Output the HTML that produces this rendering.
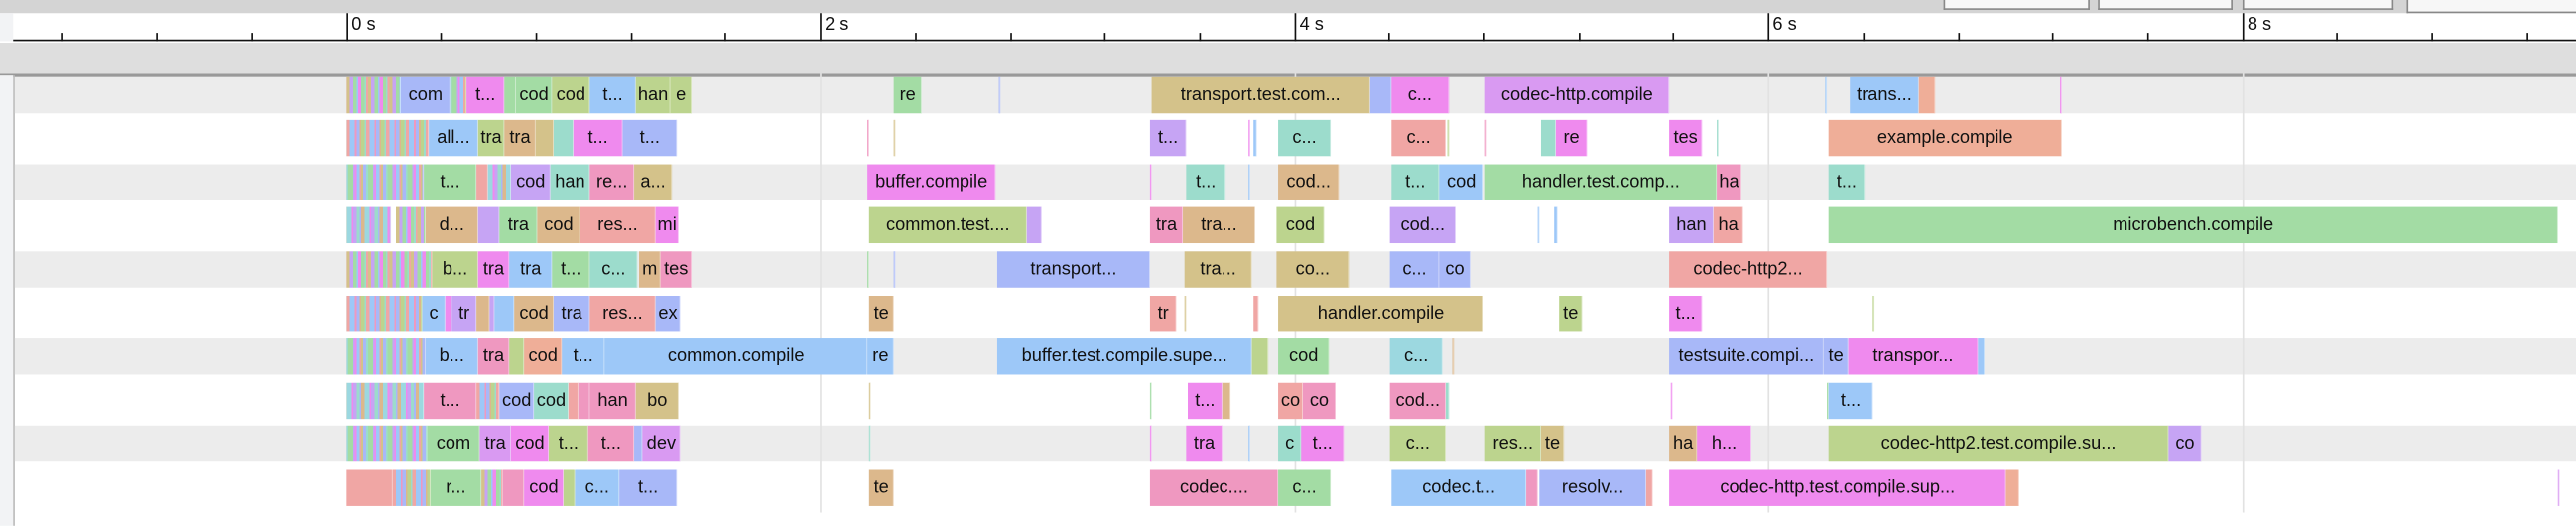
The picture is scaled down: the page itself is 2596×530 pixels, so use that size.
<!DOCTYPE html>
<html><head><meta charset="utf-8"><style>
html,body{margin:0;padding:0;background:#fff;overflow:hidden;width:2596px;height:530px}
#w{position:absolute;left:0;top:0;width:1568px;height:320px;transform:scale(1.6556);transform-origin:0 0;font-family:"Liberation Sans",sans-serif;font-size:11px;color:#111}
.a{position:absolute}
.b{position:absolute;top:0;height:22px;line-height:22px;text-align:center;overflow:hidden;white-space:nowrap;box-shadow:inset -0.5px 0 0 rgba(255,255,255,.5)}
.row{position:absolute;left:0;width:1568px;height:22px}
.B{background:#9dc8f8}.L{background:#a8b8f8}.M{background:#ef8aee}.G{background:#a3dca4}.OG{background:#bcd48e}.OT{background:#d4c28a}.T{background:#dcb88c}.S{background:#f0a6a4}.R{background:#ef98c0}.P{background:#c6a4f4}.TE{background:#9cdccc}.C{background:#9cd8e0}.O{background:#d99af2}.SA{background:#efae98}
.n1{background:repeating-linear-gradient(90deg,#d4c28a 0 2px,#c6a4f4 2px 4px,#a3dca4 4px 6px,#9dc8f8 6px 7px,#ef8aee 7px 9px,#a3dca4 9px 11px,#9cdccc 11px 12px,#f0a6a4 12px 13px)}
.n2{background:repeating-linear-gradient(90deg,#f0a6a4 0 2px,#9dc8f8 2px 5px,#ef98c0 5px 6px,#a8b8f8 6px 8px,#dcb88c 8px 9px,#bcd48e 9px 11px,#9cdccc 11px 12px)}
.n3{background:repeating-linear-gradient(90deg,#9cdccc 0 1px,#a3dca4 1px 4px,#c6a4f4 4px 5px,#ef8aee 5px 6px,#9dc8f8 6px 8px,#f0a6a4 8px 9px,#d4c28a 9px 10px,#a8b8f8 10px 12px)}
.n4{background:repeating-linear-gradient(90deg,#9cd8e0 0 3px,#ef8aee 3px 4px,#c6a4f4 4px 6px,#9cdccc 6px 8px,#a8b8f8 8px 9px,#dcb88c 9px 11px)}
.t{position:absolute;top:8px;width:1px;height:17px;background:#111}
.m{position:absolute;top:20px;width:1px;height:5px;background:#111}
.tl{position:absolute;top:9px;font-size:11px}
.g{position:absolute;top:45px;width:1px;height:267px;background:#e2e2e2}
.btn{position:absolute;top:-1px;height:6px;background:#f7f7f7;border:1px solid #888;border-top:none}
</style></head><body><div id="w">
<div class="a" style="left:0;top:0;width:1568px;height:8px;background:#d4d4d4"></div>
<div class="btn" style="left:1183px;width:87px"></div>
<div class="btn" style="left:1277px;width:80px"></div>
<div class="btn" style="left:1365px;width:90px"></div>
<div class="btn" style="left:1465px;width:105px;height:8px"></div>
<div class="a" style="left:0;top:8px;width:8px;height:17px;background:#f2f3f5"></div>
<div class="a" style="left:8px;top:24px;width:1560px;height:1px;background:#111"></div>
<div class="a" style="left:0;top:26px;width:1568px;height:19px;background:#dedede"></div>
<div class="a" style="left:0;top:45px;width:1568px;height:1.5px;background:#999"></div>
<div class="a" style="left:0;top:46px;width:8px;height:274px;background:#f2f3f5"></div>
<div class="a" style="left:8px;top:46px;width:1px;height:274px;background:#bbb"></div>
<div class="t" style="left:211px"></div><div class="tl" style="left:214px">0 s</div>
<div class="t" style="left:499px"></div><div class="tl" style="left:502px">2 s</div>
<div class="t" style="left:788px"></div><div class="tl" style="left:791px">4 s</div>
<div class="t" style="left:1076px"></div><div class="tl" style="left:1079px">6 s</div>
<div class="t" style="left:1365px"></div><div class="tl" style="left:1368px">8 s</div>
<div class="m" style="left:37px"></div><div class="m" style="left:95px"></div><div class="m" style="left:153px"></div>
<div class="m" style="left:268px"></div><div class="m" style="left:326px"></div><div class="m" style="left:384px"></div><div class="m" style="left:441px"></div>
<div class="m" style="left:557px"></div><div class="m" style="left:615px"></div><div class="m" style="left:672px"></div><div class="m" style="left:730px"></div>
<div class="m" style="left:845px"></div><div class="m" style="left:903px"></div><div class="m" style="left:961px"></div><div class="m" style="left:1018px"></div>
<div class="m" style="left:1134px"></div><div class="m" style="left:1192px"></div><div class="m" style="left:1249px"></div><div class="m" style="left:1307px"></div>
<div class="m" style="left:1422px"></div><div class="m" style="left:1480px"></div><div class="m" style="left:1538px"></div>

<div class="a" style="left:9px;top:46.5px;width:1559px;height:22px;background:#ececec"></div>
<div class="a" style="left:9px;top:99.7px;width:1559px;height:22px;background:#ececec"></div>
<div class="a" style="left:9px;top:152.9px;width:1559px;height:22px;background:#ececec"></div>
<div class="a" style="left:9px;top:206.1px;width:1559px;height:22px;background:#ececec"></div>
<div class="a" style="left:9px;top:259.3px;width:1559px;height:22px;background:#ececec"></div>
<div class="g" style="left:499px"></div><div class="g" style="left:788px"></div><div class="g" style="left:1076px"></div><div class="g" style="left:1365px"></div>

<!-- row0 -->
<div class="row" style="top:46.5px">
<div class="b n1" style="left:211px;width:33px"></div>
<div class="b L" style="left:244px;width:30px">com</div>
<div class="b n3" style="left:274px;width:10px"></div>
<div class="b M" style="left:284px;width:23px">t...</div>
<div class="b G" style="left:307px;width:7px"></div>
<div class="b G" style="left:314px;width:22px">cod</div>
<div class="b OG" style="left:336px;width:23px">cod</div>
<div class="b B" style="left:359px;width:28px">t...</div>
<div class="b OG" style="left:387px;width:21px">han</div>
<div class="b OG" style="left:408px;width:13px">e</div>
<div class="b G" style="left:544px;width:17px">re</div>
<div class="b L" style="left:608px;width:1px"></div>
<div class="b OT" style="left:700.5px;width:133.5px">transport.test.com...</div>
<div class="b L" style="left:834px;width:12.5px"></div>
<div class="b M" style="left:846.5px;width:35.5px">c...</div>
<div class="b O" style="left:904px;width:112px">codec-http.compile</div>
<div class="b B" style="left:1111px;width:1px"></div>
<div class="b B" style="left:1126px;width:42px">trans...</div>
<div class="b SA" style="left:1168px;width:10px"></div>
<div class="b M" style="left:1254px;width:1px"></div>
</div>
<!-- row1 -->
<div class="row" style="top:73.1px">
<div class="b n2" style="left:211px;width:50px"></div>
<div class="b B" style="left:261px;width:30px">all...</div>
<div class="b OG" style="left:291px;width:16px">tra</div>
<div class="b T" style="left:307px;width:19px">tra</div>
<div class="b OT" style="left:326px;width:11px"></div>
<div class="b TE" style="left:337px;width:12px"></div>
<div class="b M" style="left:349px;width:30px">t...</div>
<div class="b L" style="left:379px;width:33px">t...</div>
<div class="b R" style="left:528px;width:1px"></div>
<div class="b OT" style="left:544px;width:1px"></div>
<div class="b P" style="left:700px;width:22px">t...</div>
<div class="b M" style="left:760px;width:1px"></div>
<div class="b B" style="left:763px;width:2px"></div>
<div class="b TE" style="left:778px;width:32px">c...</div>
<div class="b S" style="left:847px;width:33px">c...</div>
<div class="b OG" style="left:881px;width:1px"></div>
<div class="b R" style="left:904px;width:1px"></div>
<div class="b TE" style="left:938px;width:9px"></div>
<div class="b M" style="left:947px;width:19px">re</div>
<div class="b M" style="left:1016px;width:20px">tes</div>
<div class="b TE" style="left:1045px;width:1px"></div>
<div class="b SA" style="left:1113px;width:142px">example.compile</div>
</div>
<!-- row2 -->
<div class="row" style="top:99.7px">
<div class="b n3" style="left:211px;width:47px"></div>
<div class="b G" style="left:258px;width:32px">t...</div>
<div class="b S" style="left:290px;width:7px"></div>
<div class="b n4" style="left:297px;width:14px"></div>
<div class="b P" style="left:311px;width:24px">cod</div>
<div class="b TE" style="left:335px;width:24px">han</div>
<div class="b R" style="left:359px;width:27px">re...</div>
<div class="b OT" style="left:386px;width:23px">a...</div>
<div class="b M" style="left:528px;width:78px">buffer.compile</div>
<div class="b M" style="left:700px;width:1px"></div>
<div class="b TE" style="left:722px;width:24px">t...</div>
<div class="b B" style="left:760px;width:1px"></div>
<div class="b T" style="left:778px;width:37px">cod...</div>
<div class="b TE" style="left:847px;width:29px">t...</div>
<div class="b B" style="left:876px;width:27px">cod</div>
<div class="b G" style="left:904px;width:141px">handler.test.comp...</div>
<div class="b R" style="left:1045px;width:15px">ha</div>
<div class="b TE" style="left:1113px;width:22px">t...</div>
</div>
<!-- row3 -->
<div class="row" style="top:126.3px">
<div class="b n4" style="left:211px;width:27px"></div>
<div class="b n1" style="left:241px;width:18px"></div>
<div class="b T" style="left:259px;width:32px">d...</div>
<div class="b P" style="left:291px;width:13px"></div>
<div class="b G" style="left:304px;width:23px">tra</div>
<div class="b T" style="left:327px;width:26px">cod</div>
<div class="b S" style="left:353px;width:46px">res...</div>
<div class="b M" style="left:399px;width:14px">mi</div>
<div class="b OG" style="left:529px;width:96px">common.test....</div>
<div class="b P" style="left:625px;width:9px"></div>
<div class="b R" style="left:700px;width:20px">tra</div>
<div class="b T" style="left:720px;width:44px">tra...</div>
<div class="b OG" style="left:777px;width:29px">cod</div>
<div class="b P" style="left:846px;width:40px">cod...</div>
<div class="b B" style="left:936px;width:1px"></div>
<div class="b B" style="left:946px;width:2px"></div>
<div class="b P" style="left:1016px;width:27px">han</div>
<div class="b S" style="left:1043px;width:18px">ha</div>
<div class="b G" style="left:1113px;width:444px">microbench.compile</div>
</div>
<!-- row4 -->
<div class="row" style="top:152.9px">
<div class="b n1" style="left:211px;width:52px"></div>
<div class="b OG" style="left:263px;width:28px">b...</div>
<div class="b M" style="left:291px;width:19px">tra</div>
<div class="b B" style="left:310px;width:26px">tra</div>
<div class="b G" style="left:336px;width:23px">t...</div>
<div class="b TE" style="left:359px;width:29px">c...</div>
<div class="b T" style="left:389px;width:13px">m</div>
<div class="b R" style="left:402px;width:19px">tes</div>
<div class="b G" style="left:528px;width:1px"></div>
<div class="b L" style="left:544px;width:1px"></div>
<div class="b L" style="left:607px;width:93px">transport...</div>
<div class="b OT" style="left:721px;width:41px">tra...</div>
<div class="b OT" style="left:777px;width:44px">co...</div>
<div class="b L" style="left:846px;width:30px">c...</div>
<div class="b L" style="left:876px;width:19px">co</div>
<div class="b S" style="left:1016px;width:96px">codec-http2...</div>
</div>
<!-- row5 -->
<div class="row" style="top:179.5px">
<div class="b n2" style="left:211px;width:46px"></div>
<div class="b B" style="left:257px;width:14px">c</div>
<div class="b M" style="left:271px;width:4px"></div>
<div class="b P" style="left:275px;width:15px">tr</div>
<div class="b T" style="left:290px;width:8px"></div>
<div class="b P" style="left:298px;width:3px"></div>
<div class="b B" style="left:301px;width:12px"></div>
<div class="b T" style="left:313px;width:24px">cod</div>
<div class="b L" style="left:337px;width:22px">tra</div>
<div class="b S" style="left:359px;width:40px">res...</div>
<div class="b L" style="left:399px;width:15px">ex</div>
<div class="b T" style="left:529px;width:15px">te</div>
<div class="b S" style="left:700px;width:16px">tr</div>
<div class="b OT" style="left:721px;width:1px"></div>
<div class="b S" style="left:763px;width:3px"></div>
<div class="b OT" style="left:778px;width:125px">handler.compile</div>
<div class="b OG" style="left:949px;width:14px">te</div>
<div class="b M" style="left:1016px;width:20px">t...</div>
<div class="b OG" style="left:1140px;width:1px"></div>
</div>
<!-- row6 -->
<div class="row" style="top:206.1px">
<div class="b n3" style="left:211px;width:48px"></div>
<div class="b B" style="left:259px;width:32px">b...</div>
<div class="b R" style="left:291px;width:19px">tra</div>
<div class="b OG" style="left:310px;width:9px"></div>
<div class="b SA" style="left:319px;width:23px">cod</div>
<div class="b B" style="left:342px;width:26px">t...</div>
<div class="b B" style="left:368px;width:160px">common.compile</div>
<div class="b B" style="left:528px;width:16px">re</div>
<div class="b B" style="left:607px;width:155px">buffer.test.compile.supe...</div>
<div class="b OG" style="left:762px;width:10px"></div>
<div class="b G" style="left:778px;width:31px">cod</div>
<div class="b C" style="left:846px;width:32px">c...</div>
<div class="b T" style="left:884px;width:1px"></div>
<div class="b L" style="left:1016px;width:94px">testsuite.compi...</div>
<div class="b L" style="left:1110px;width:15px">te</div>
<div class="b M" style="left:1125px;width:79px">transpor...</div>
<div class="b B" style="left:1204px;width:4px"></div>
</div>
<!-- row7 -->
<div class="row" style="top:232.7px">
<div class="b n4" style="left:211px;width:47px"></div>
<div class="b R" style="left:258px;width:32px">t...</div>
<div class="b n2" style="left:290px;width:14px"></div>
<div class="b L" style="left:304px;width:21px">cod</div>
<div class="b TE" style="left:325px;width:21px">cod</div>
<div class="b S" style="left:346px;width:6px"></div>
<div class="b R" style="left:352px;width:7px"></div>
<div class="b R" style="left:359px;width:28px">han</div>
<div class="b OT" style="left:387px;width:26px">bo</div>
<div class="b OT" style="left:529px;width:1px"></div>
<div class="b G" style="left:700px;width:1px"></div>
<div class="b M" style="left:723px;width:21px">t...</div>
<div class="b T" style="left:744px;width:5px"></div>
<div class="b S" style="left:778px;width:15px">co</div>
<div class="b R" style="left:793px;width:20px">co</div>
<div class="b R" style="left:846px;width:34px">cod...</div>
<div class="b TE" style="left:880px;width:2px"></div>
<div class="b M" style="left:1017px;width:1px"></div>
<div class="b G" style="left:1112px;width:1px"></div>
<div class="b B" style="left:1113px;width:27px">t...</div>
</div>
<!-- row8 -->
<div class="row" style="top:259.3px">
<div class="b n3" style="left:211px;width:49px"></div>
<div class="b G" style="left:260px;width:32px">com</div>
<div class="b O" style="left:292px;width:19px">tra</div>
<div class="b M" style="left:311px;width:23px">cod</div>
<div class="b OG" style="left:334px;width:24px">t...</div>
<div class="b R" style="left:358px;width:28px">t...</div>
<div class="b L" style="left:386px;width:5px"></div>
<div class="b O" style="left:391px;width:23px">dev</div>
<div class="b TE" style="left:529px;width:1px"></div>
<div class="b M" style="left:700px;width:1px"></div>
<div class="b M" style="left:722px;width:22px">tra</div>
<div class="b B" style="left:760px;width:1px"></div>
<div class="b TE" style="left:778px;width:14px">c</div>
<div class="b M" style="left:792px;width:26px">t...</div>
<div class="b OG" style="left:846px;width:34px">c...</div>
<div class="b OG" style="left:904px;width:34px">res...</div>
<div class="b OT" style="left:938px;width:14px">te</div>
<div class="b T" style="left:1016px;width:17px">ha</div>
<div class="b M" style="left:1033px;width:33px">h...</div>
<div class="b OG" style="left:1113px;width:207px">codec-http2.test.compile.su...</div>
<div class="b P" style="left:1320px;width:20px">co</div>
</div>
<!-- row9 -->
<div class="row" style="top:285.9px">
<div class="b S" style="left:211px;width:28px"></div>
<div class="b n2" style="left:239px;width:23px"></div>
<div class="b G" style="left:262px;width:31px">r...</div>
<div class="b n1" style="left:293px;width:13px"></div>
<div class="b R" style="left:306px;width:13px"></div>
<div class="b M" style="left:319px;width:24px">cod</div>
<div class="b OG" style="left:343px;width:7px"></div>
<div class="b B" style="left:350px;width:27px">c...</div>
<div class="b L" style="left:377px;width:35px">t...</div>
<div class="b T" style="left:529px;width:15px">te</div>
<div class="b R" style="left:700px;width:78px">codec....</div>
<div class="b G" style="left:778px;width:32px">c...</div>
<div class="b B" style="left:847px;width:82px">codec.t...</div>
<div class="b R" style="left:929px;width:7px"></div>
<div class="b L" style="left:937px;width:65px">resolv...</div>
<div class="b S" style="left:1002px;width:4px"></div>
<div class="b M" style="left:1016px;width:205px">codec-http.test.compile.sup...</div>
<div class="b SA" style="left:1221px;width:8px"></div>
<div class="b O" style="left:1557px;width:1px"></div>
</div>
</div></body></html>
